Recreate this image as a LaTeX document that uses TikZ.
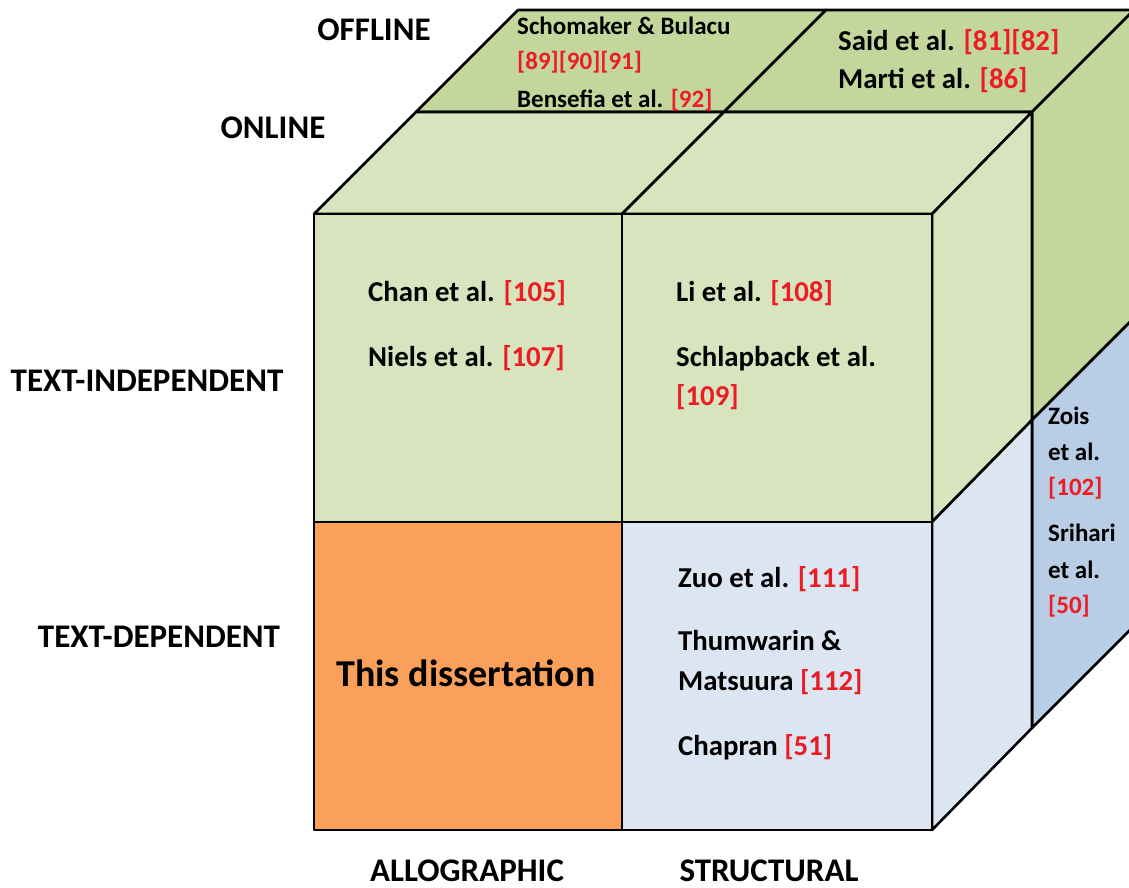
\documentclass[tikz,border=0pt]{standalone}
\usepackage{fontspec}
\setmainfont{Carlito}
\definecolor{greendark}{RGB}{195,214,155}
\definecolor{greenlight}{RGB}{215,228,189}
\definecolor{bluelight}{RGB}{220,230,242}
\definecolor{bluedark}{RGB}{185,205,229}
\definecolor{orangecell}{RGB}{250,160,90}
\definecolor{refred}{RGB}{236,28,36}
\newcommand{\rf}[1]{\textcolor{refred}{#1}}
\tikzset{
  face/.style={draw=black, line width=2.6pt, line join=round},
  axislabel/.style={font=\fontsize{33}{37}\selectfont\bfseries, inner sep=0pt, anchor=base},
  celltext/.style={font=\fontsize{28.8}{32}\selectfont\bfseries, inner sep=0pt, anchor=base west},
  smalltext/.style={font=\fontsize{25}{28}\selectfont\bfseries, inner sep=0pt, anchor=base west},
  bigtext/.style={font=\fontsize{38}{42}\selectfont\bfseries, inner sep=0pt}
}
\begin{document}
\begin{tikzpicture}[x=1pt,y=-1pt]
\useasboundingbox (0,0) rectangle (1129,888);
\clip (0,0) rectangle (1129,888);
% offline (back) layer
\draw[face, fill=greendark] (518,10) -- (826,10) -- (724,112) -- (416,112) -- cycle;
\draw[face, fill=greendark] (826,10) -- (1134,10) -- (1032,112) -- (724,112) -- cycle;
\draw[face, fill=greendark] (1032,112) -- (1134,10) -- (1134,318) -- (1032,420) -- cycle;
\draw[face, fill=bluedark] (1032,420) -- (1134,318) -- (1134,626) -- (1032,728) -- cycle;
% online (front) layer: top
\draw[face, fill=greenlight] (314,214) -- (622,214) -- (724,112) -- (416,112) -- cycle;
\draw[face, fill=greenlight] (622,214) -- (932,214) -- (1032,112) -- (724,112) -- cycle;
% online right side
\draw[face, fill=greenlight] (932,214) -- (1032,112) -- (1032,420) -- (932,522) -- cycle;
\draw[face, fill=bluelight] (932,522) -- (1032,420) -- (1032,728) -- (932,830) -- cycle;
% online front
\draw[face, fill=greenlight] (314,214) rectangle (622,522);
\draw[face, fill=greenlight] (622,214) rectangle (932,522);
\draw[face, fill=orangecell] (314,522) rectangle (622,830);
\draw[face, fill=bluelight] (622,522) rectangle (932,830);

% axis labels
\node[axislabel] (offline) at (374,41) {OFFLINE};
\node[axislabel] (online) at (273,139) {ONLINE};
\node[axislabel] (textind) at (147,391) {TEXT-INDEPENDENT};
\node[axislabel] (textdep) at (159,647) {TEXT-DEPENDENT};
\node[axislabel] (allo) at (467,881) {ALLOGRAPHIC};
\node[axislabel] (struct) at (769,881) {STRUCTURAL};

% offline top cells
\node[smalltext] (schom) at (517,35) {Schomaker \& Bulacu};
\node[smalltext] (schomref) at (517,70) {\rf{[89][90][91]}};
\node[smalltext] (bens) at (517,108) {Bensefia et al. \rf{[92]}};
\node[celltext] (said) at (838,51) {Said et al. \rf{[81][82]}};
\node[celltext] (marti) at (838,89) {Marti et al. \rf{[86]}};

% text-independent online
\node[celltext] (chan) at (368,301) {Chan et al. \rf{[105]}};
\node[celltext] (niels) at (368,366) {Niels et al. \rf{[107]}};
\node[celltext] (li) at (676,301) {Li et al. \rf{[108]}};
\node[celltext] (schl) at (676,366) {Schlapback et al.};
\node[celltext] (schlref) at (676,405) {\rf{[109]}};

% text-dependent online
\node[bigtext] (diss) at (466,673) {This dissertation};
\node[celltext] (zuo) at (678,587) {Zuo et al. \rf{[111]}};
\node[celltext] (thum) at (678,650) {Thumwarin \&};
\node[celltext] (mats) at (678,690) {Matsuura \rf{[112]}};
\node[celltext] (chap) at (678,755) {Chapran \rf{[51]}};

% offline text-dependent side
\node[smalltext] (zois) at (1048,424) {Zois};
\node[smalltext] (zoisb) at (1048,460) {et al.};
\node[smalltext] (zoisref) at (1048,495) {\rf{[102]}};
\node[smalltext] (sri) at (1048,541) {Srihari};
\node[smalltext] (srib) at (1048,578) {et al.};
\node[smalltext] (sriref) at (1048,613) {\rf{[50]}};
\end{tikzpicture}
\end{document}
